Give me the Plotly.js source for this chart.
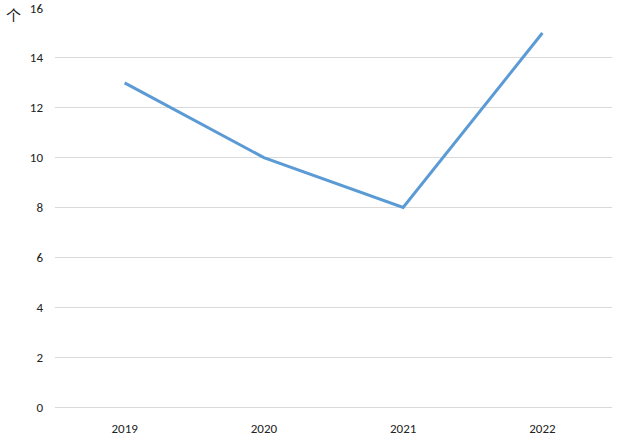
<!DOCTYPE html>
<html>
<head>
<meta charset="utf-8">
<script src="https://cdn.plot.ly/plotly-3.0.1.min.js"></script>
<style>html,body{margin:0;padding:0;background:#fff;}#chart{width:619px;height:439px;}</style>
</head>
<body>
<div id="chart"></div>
<script>
const years = ['2019', '2020', '2021', '2022'];
const counts = [13, 10, 8, 15];
const yTicks = [0, 2, 4, 6, 8, 10, 12, 14, 16];
const unitLabel = '个';

const trace = {
  x: years,
  y: counts,
  type: 'scatter',
  mode: 'lines',
  line: {color: '#5b9bd5', width: 3},
  hoverinfo: 'skip'
};

const layout = {
  width: 619,
  height: 439,
  margin: {l: 55, r: 7, t: 8, b: 32},
  paper_bgcolor: '#ffffff',
  plot_bgcolor: '#ffffff',
  showlegend: false,
  font: {family: 'Calibri, Carlito, "Open Sans", "Noto Sans", sans-serif', size: 13, color: '#222222'},
  xaxis: {
    type: 'category',
    range: [-0.5, 3.5],
    showgrid: false,
    zeroline: false,
    showline: false,
    ticks: '',
    ticklabelstandoff: 12,
    fixedrange: true
  },
  yaxis: {
    range: [0, 16],
    tickvals: yTicks,
    ticktext: yTicks.map(String),
    showgrid: true,
    gridcolor: '#d9d9d9',
    gridwidth: 1,
    zeroline: true,
    zerolinecolor: '#d9d9d9',
    zerolinewidth: 1,
    showline: false,
    ticks: '',
    ticklabelstandoff: 11,
    fixedrange: true
  },
  annotations: [{
    text: unitLabel,
    xref: 'paper', yref: 'paper',
    x: -0.075, y: 1.0,
    xanchor: 'center', yanchor: 'middle',
    yshift: -6,
    showarrow: false,
    font: {family: '"Noto Sans CJK SC", sans-serif', size: 15, color: '#222222'}
  }]
};

Plotly.newPlot('chart', [trace], layout, {displayModeBar: false, staticPlot: true});
</script>
</body>
</html>
